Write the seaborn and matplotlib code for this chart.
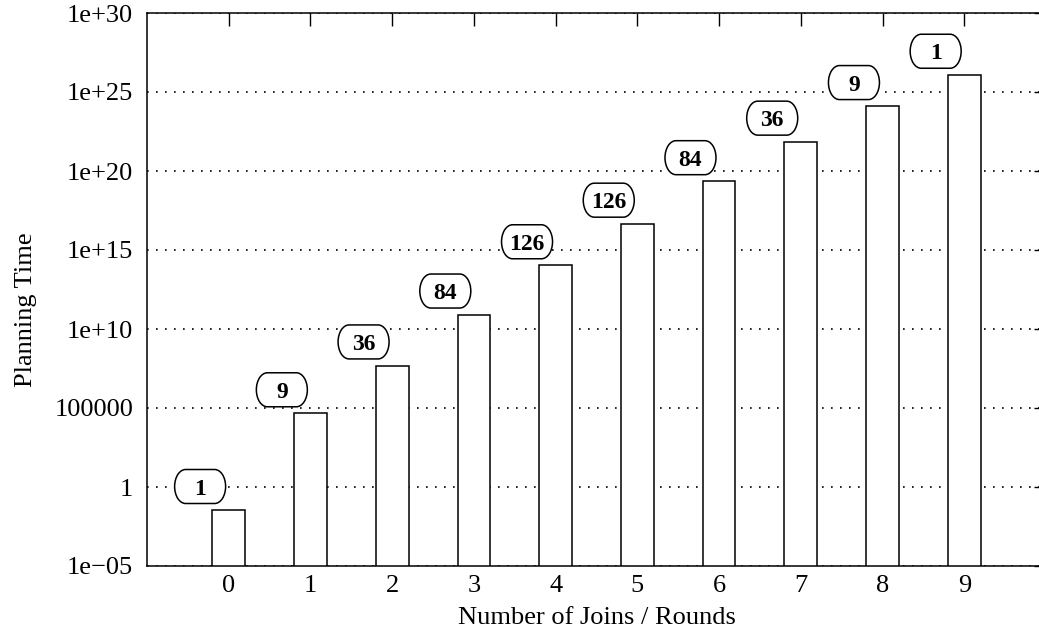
import numpy as np
import pandas as pd
import matplotlib
matplotlib.use("Agg")
import matplotlib.pyplot as plt
import matplotlib.ticker as mticker
from matplotlib.path import Path
from matplotlib.patches import PathPatch
from matplotlib.transforms import IdentityTransform
import seaborn as sns

# values (log scale)
rounds = [0, 1, 2, 3, 4, 5, 6, 7, 8, 9]
planning_time = [0.034, 4.5e4, 4.8e7, 8.0e10, 1.05e14, 4.5e16, 2.2e19, 7.0e21, 1.25e24, 1.2e26]
plan_counts = [1, 9, 36, 84, 126, 126, 84, 36, 9, 1]

ytick_values = [1e-5, 1, 1e5, 1e10, 1e15, 1e20, 1e25, 1e30]
ytick_labels = ["1e\u221205", "1", "100000", "1e+10", "1e+15", "1e+20", "1e+25", "1e+30"]


def rounded_box(cx, cy, w, h, rx):
    # box with elliptic ends, in pixel units
    ry = h / 2
    right = Path.arc(-90, 90)
    left = Path.arc(90, 270)
    rv = right.vertices * [rx, ry] + [cx + w / 2 - rx, cy]
    lv = left.vertices * [rx, ry] + [cx - w / 2 + rx, cy]
    verts = np.vstack([rv, lv, rv[:1]])
    codes = np.concatenate([right.codes, left.codes, [Path.CLOSEPOLY]])
    codes[len(right.codes)] = Path.LINETO
    return Path(verts, codes)


def main():
    sns.set_theme(style="white")
    plt.rcParams["font.family"] = ["Liberation Serif", "DejaVu Serif"]

    fs = 19
    fig = plt.figure(figsize=(10.39, 6.38), dpi=100)
    # plot area runs past the right edge, as in the reference
    ax = fig.add_axes([147 / 1039, 1 - 566 / 638, (1046 - 147) / 1039, (566 - 13) / 638])
    ax.set_yscale("log")

    df = pd.DataFrame({"rounds": rounds, "time": planning_time})
    sns.barplot(data=df, x="rounds", y="time", color="white", saturation=1,
                edgecolor="black", linewidth=1.1, width=0.4, ax=ax)

    ax.set_xlim(-1, 10)
    ax.set_ylim(1e-5, 1e30)

    ax.yaxis.set_major_locator(mticker.FixedLocator(ytick_values))
    ax.yaxis.set_major_formatter(mticker.FixedFormatter(ytick_labels))
    ax.yaxis.set_minor_locator(mticker.FixedLocator([10.0 ** k for k in range(-5, 31)]))
    ax.yaxis.set_minor_formatter(mticker.NullFormatter())

    ax.set_axisbelow(True)
    ax.yaxis.grid(True, which="major", color="black", linestyle=(0, (1, 4.4)), linewidth=1.2)
    ax.xaxis.grid(False)

    for sp in ax.spines.values():
        sp.set_color("black")
        sp.set_linewidth(1.1)

    ax.tick_params(axis="both", which="both", direction="in", top=True, right=True,
                   color="black", labelcolor="black", labelsize=fs)
    ax.tick_params(axis="both", which="major", length=9, width=1.0)
    ax.tick_params(axis="y", which="minor", length=4.5, width=1.0)
    ax.tick_params(axis="y", which="major", pad=10)
    ax.tick_params(axis="x", which="major", pad=6.8)

    ax.set_xlabel("Number of Joins / Rounds", fontsize=fs, color="black")
    ax.set_ylabel("Planning Time", fontsize=fs, color="black")
    ax.xaxis.set_label_coords(0.5, -0.074)
    ax.yaxis.set_label_coords(-0.122, 0.463)

    # rounded label boxes above each bar, fixed size in pixels
    bw, bh = 51, 34
    for i, (c, v) in enumerate(zip(plan_counts, planning_time)):
        lx, ly = i - 0.35, v * 10 ** 1.5
        px, py = ax.transData.transform((lx, ly))
        box = PathPatch(rounded_box(px, py, bw, bh, 11), transform=IdentityTransform(),
                        facecolor="white", edgecolor="black", linewidth=1.1,
                        clip_on=False, zorder=4)
        ax.add_artist(box)
        ax.text(lx, ly, str(c), ha="center", va="center_baseline", fontsize=fs - 2,
                fontweight="bold", color="black", zorder=5)

    fig.savefig("out.png", dpi=100)


if __name__ == "__main__":
    main()
